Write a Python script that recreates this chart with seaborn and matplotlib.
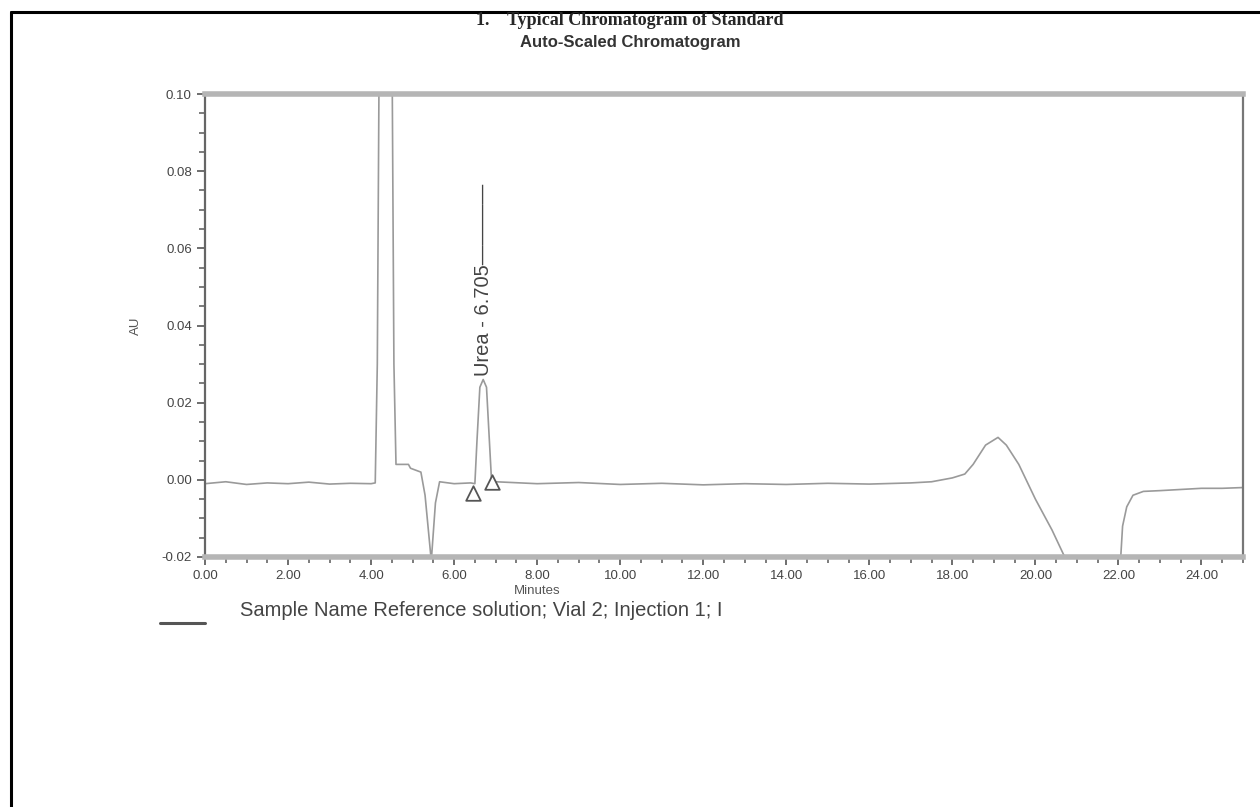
import numpy as np
import pandas as pd
import matplotlib.pyplot as plt
import seaborn as sns
from matplotlib.lines import Line2D
from matplotlib.ticker import MultipleLocator, FormatStrFormatter

# chromatogram trace (minutes, AU)
minutes = [0.0, 0.5, 1.0, 1.5, 2.0, 2.5, 3.0, 3.5, 4.0, 4.1, 4.15, 4.2, 4.5, 4.55,
           4.6, 4.9, 4.95, 5.2, 5.3, 5.45, 5.55, 5.65, 6.0, 6.4, 6.5, 6.55, 6.62,
           6.7, 6.78, 6.85, 6.9, 7.0, 8.0, 9.0, 10.0, 11.0, 12.0, 13.0, 14.0, 15.0,
           16.0, 17.0, 17.5, 18.0, 18.3, 18.5, 18.8, 19.1, 19.3, 19.6, 20.0, 20.4,
           20.75, 21.0, 22.0, 22.05, 22.1, 22.2, 22.35, 22.6, 23.0, 23.5, 24.0,
           24.5, 25.0]
au = [-0.001, -0.0005, -0.0012, -0.0008, -0.001, -0.0006, -0.0011, -0.0009, -0.001,
      -0.0008, 0.03, 0.12, 0.12, 0.03, 0.004, 0.004, 0.003, 0.002, -0.004, -0.021,
      -0.006, -0.0005, -0.001, -0.0008, -0.001, 0.01, 0.024, 0.026, 0.024, 0.01,
      0.0, -0.0005, -0.001, -0.0007, -0.0012, -0.0009, -0.0013, -0.001, -0.0012,
      -0.0009, -0.0011, -0.0008, -0.0005, 0.0005, 0.0015, 0.004, 0.009, 0.011,
      0.009, 0.004, -0.005, -0.013, -0.021, -0.03, -0.03, -0.021, -0.012, -0.007,
      -0.004, -0.003, -0.0028, -0.0025, -0.0022, -0.0022, -0.002]

# peak start / end markers
marker_min = [6.45, 6.92]
marker_au = [-0.0035, -0.0005]

peak_label = "Urea - 6.705\u2014\u2014\u2014\u2014"
peak_time = 6.70
peak_top = 0.027

y_ticks = [-0.02, 0.00, 0.02, 0.04, 0.06, 0.08, 0.10]
x_ticks = [0, 2, 4, 6, 8, 10, 12, 14, 16, 18, 20, 22, 24]

df = pd.DataFrame({"Minutes": minutes, "AU": au})
marks = pd.DataFrame({"Minutes": marker_min, "AU": marker_au})

sns.set_style("ticks")
plt.rcParams["font.family"] = ["Liberation Sans", "DejaVu Sans"]

fig = plt.figure(figsize=(12.6, 8.07), dpi=100)
ax = fig.add_axes([0.1627, 0.3098, 0.8238, 0.5737])

sns.lineplot(data=df, x="Minutes", y="AU", ax=ax, color="#9a9a9a", linewidth=1.2,
             sort=False, estimator=None)
sns.scatterplot(data=marks, x="Minutes", y="AU", ax=ax, marker="^", s=110,
                facecolor="white", edgecolor="#555555", linewidth=1.3, zorder=5)

ax.text(peak_time, peak_top, peak_label, rotation=90, ha="center", va="bottom",
        fontsize=14.5, color="#444444")

ax.set_xlim(0, 25)
ax.set_ylim(-0.02, 0.10)
ax.set_xticks(x_ticks)
ax.set_yticks(y_ticks)
ax.xaxis.set_minor_locator(MultipleLocator(0.5))
ax.yaxis.set_minor_locator(MultipleLocator(0.005))
ax.xaxis.set_major_formatter(FormatStrFormatter("%.2f"))
ax.yaxis.set_major_formatter(FormatStrFormatter("%.2f"))
ax.tick_params(axis="both", which="major", length=6, width=1.2, colors="#555555",
               labelsize=9.5, labelcolor="#444444")
ax.tick_params(axis="both", which="minor", length=4, width=1.2, colors="#666666")
ax.set_xlabel("Minutes", fontsize=9.5, color="#555555")
ax.set_ylabel("AU", fontsize=9.5, color="#555555", labelpad=14)
ax.xaxis.set_label_coords(0.32, -0.06)

for side in ["top", "bottom"]:
    ax.spines[side].set_linewidth(4)
    ax.spines[side].set_color("#b5b5b5")
ax.spines["left"].set_linewidth(1.6)
ax.spines["left"].set_color("#666666")
ax.spines["right"].set_linewidth(1.6)
ax.spines["right"].set_color("#777777")

fig.text(0.5, 0.974, "1.    Typical Chromatogram of Standard", ha="center", va="center",
         fontsize=13, fontweight="bold", family=["Liberation Serif", "DejaVu Serif"])
fig.text(0.5, 0.947, "Auto-Scaled Chromatogram", ha="center", va="center",
         fontsize=12, fontweight="bold", color="#333333")

# legend row under the plot
fig.add_artist(Line2D([160 / 1260, 205 / 1260], [1 - 623 / 807, 1 - 623 / 807],
                      color="#555555", linewidth=2.2))
fig.text(240 / 1260, 1 - 610 / 807, "Sample Name Reference solution; Vial 2; Injection 1; I",
         ha="left", va="center", fontsize=14.5, color="#444444")

# page frame
fig.add_artist(Line2D([11 / 1260, 11 / 1260], [0, 1 - 12 / 807], color="black", linewidth=2.2))
fig.add_artist(Line2D([11 / 1260, 1], [1 - 12 / 807, 1 - 12 / 807], color="black", linewidth=2.2))

fig.savefig("out.png", dpi=100)
